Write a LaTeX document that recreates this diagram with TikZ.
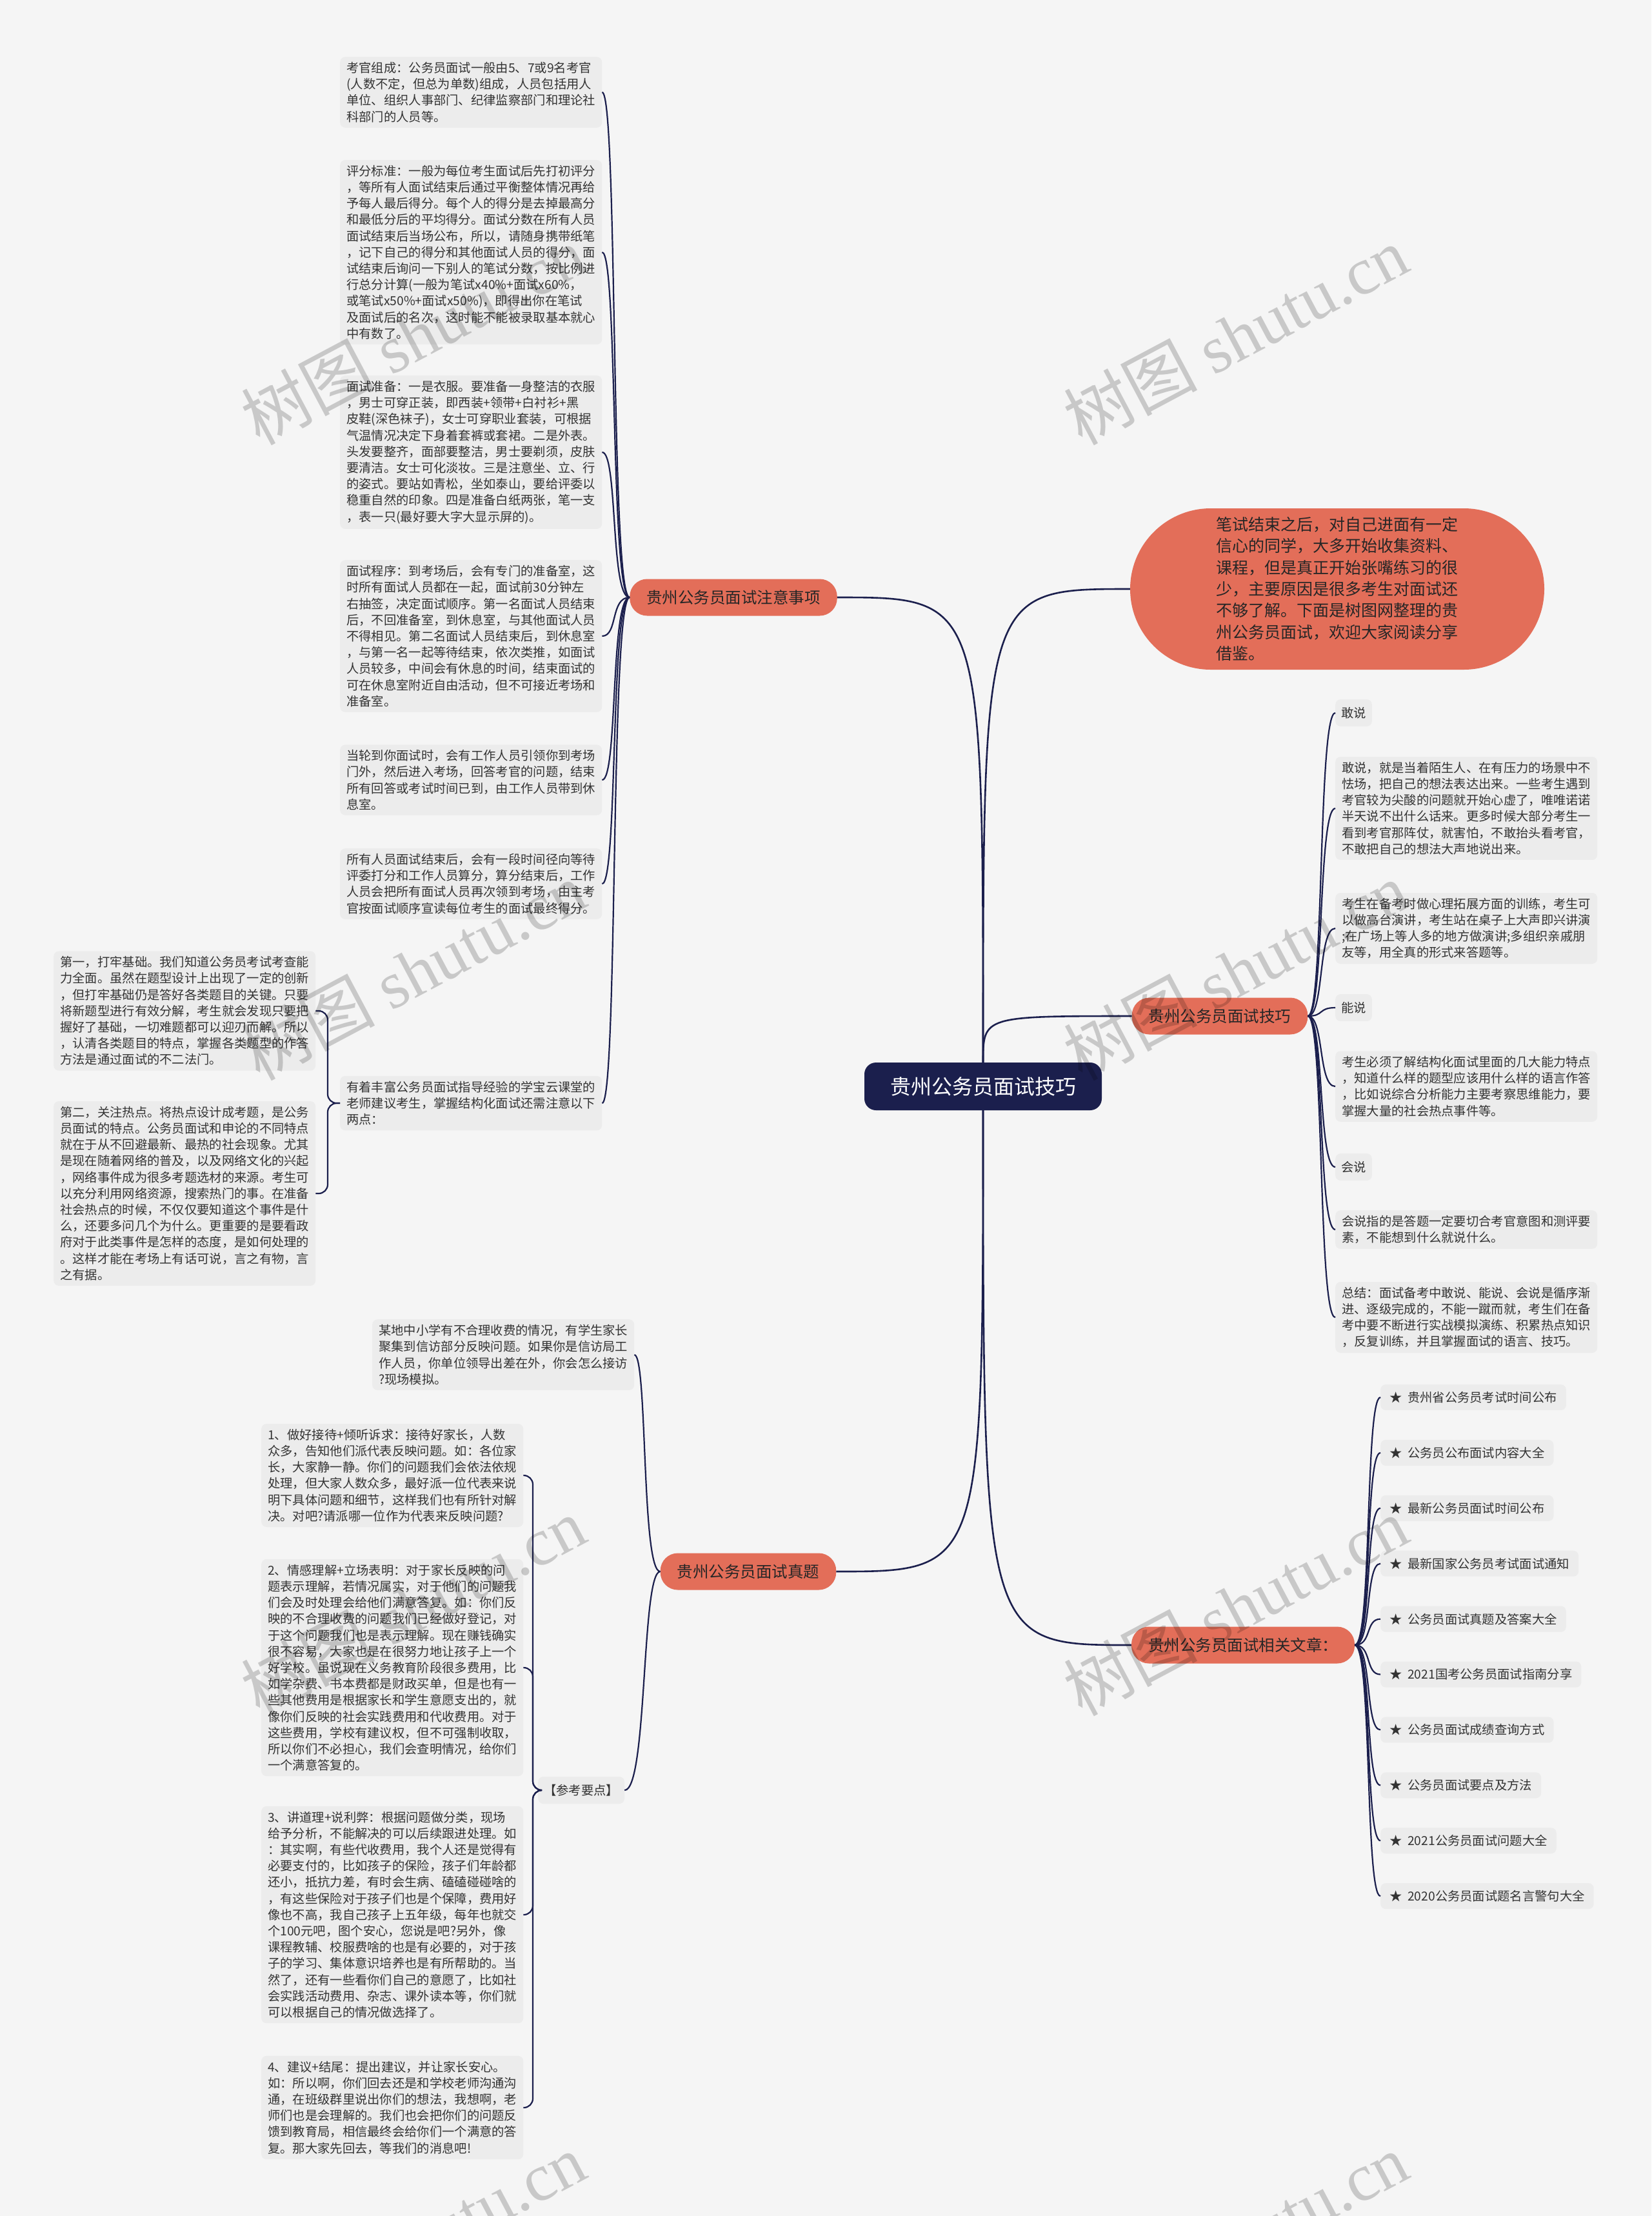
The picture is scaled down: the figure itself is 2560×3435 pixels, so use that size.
\documentclass[tikz,border=0pt]{standalone}
\usepackage{fontspec}
\setmainfont{Noto Sans CJK SC}
\newfontfamily\wmlatin{Liberation Serif}
\definecolor{bgc}{HTML}{F5F5F5}
\definecolor{blkc}{HTML}{ECECEC}
\definecolor{navy}{HTML}{1B1F4D}
\definecolor{salmon}{HTML}{E36E59}
\definecolor{txt}{HTML}{333333}
\newcommand\blkfont{\fontsize{19.3}{25.2}\selectfont}
\newcommand\brfont{\fontsize{24.5}{30}\selectfont}
\newcommand\bubfont{\fontsize{25}{33.3}\selectfont}
\newcommand\ctrfont{\fontsize{32}{38}\selectfont}
\newcommand\wmfont{\fontsize{104}{104}\selectfont}
\begin{document}
\begin{tikzpicture}[x=1pt,y=-1pt,
  blk/.style={fill=blkc, rounded corners=8pt, inner xsep=10pt, inner ysep=8pt, align=left, anchor=west, font=\blkfont, text=txt},
  lbl/.style={blk, inner ysep=12pt, inner xsep=9pt},
  item/.style={blk, inner ysep=11pt, inner xsep=14pt},
  branch/.style={fill=salmon, rounded corners=27pt, minimum height=57pt, inner xsep=26pt, inner ysep=0pt, font=\brfont, text=black!85},
  ctrbox/.style={fill=navy, rounded corners=18pt, minimum width=368pt, minimum height=74pt, font=\ctrfont, text=white},
  bubble/.style={fill=salmon, rounded corners=125pt, minimum width=642pt, minimum height=250pt, align=left, font=\bubfont, text=black!85},
  conn/.style={draw=navy, line width=2.6pt},
  sub/.style={draw=navy, line width=2.2pt},
  wm/.style={text=black, opacity=0.18, rotate=28, font=\wmfont}
]
\fill[bgc] (0,0) rectangle (2560,3435);
\useasboundingbox (0,0) rectangle (2560,3435);

% ---------- centre and branches ----------
\node[ctrbox] (ctr) at (1524,1684) {贵州公务员面试技巧};
\node[branch] (zy) at (1137,926) {贵州公务员面试注意事项};
\node[branch] (jq) at (1891,1575) {贵州公务员面试技巧};
\node[branch] (zt) at (1160,2436) {贵州公务员面试真题};
\node[branch] (xg) at (1927,2550) {贵州公务员面试相关文章：};
\node[bubble] (bub) at (2073,913) {笔试结束之后，对自己进面有一定\\信心的同学，大多开始收集资料、\\课程，但是真正开始张嘴练习的很\\少，主要原因是很多考生对面试还\\不够了解。下面是树图网整理的贵\\州公务员面试，欢迎大家阅读分享\\借鉴。};

\draw[conn] (ctr.north) .. controls (1524,926) .. (zy.east);
\draw[conn] (ctr.north) .. controls (1524,913) .. (bub.west);
\draw[conn] (ctr.north) .. controls (1524,1575) .. (jq.west);
\draw[conn] (ctr.south) .. controls (1524,2436) .. (zt.east);
\draw[conn] (ctr.south) .. controls (1524,2550) .. (xg.west);

% ---------- 注意事项 ----------
\node[blk] (kg) at (527,143) {考官组成：公务员面试一般由5、7或9名考官\\(人数不定，但总为单数)组成，人员包括用人\\单位、组织人事部门、纪律监察部门和理论社\\科部门的人员等。};
\node[blk] (pf) at (527,391) {评分标准：一般为每位考生面试后先打初评分\\，等所有人面试结束后通过平衡整体情况再给\\予每人最后得分。每个人的得分是去掉最高分\\和最低分后的平均得分。面试分数在所有人员\\面试结束后当场公布，所以，请随身携带纸笔\\，记下自己的得分和其他面试人员的得分，面\\试结束后询问一下别人的笔试分数，按比例进\\行总分计算(一般为笔试x40\%+面试x60\%，\\或笔试x50\%+面试x50\%)，即得出你在笔试\\及面试后的名次，这时能不能被录取基本就心\\中有数了。};
\node[blk] (zb) at (527,701) {面试准备：一是衣服。要准备一身整洁的衣服\\，男士可穿正装，即西装+领带+白衬衫+黑\\皮鞋(深色袜子)，女士可穿职业套装，可根据\\气温情况决定下身着套裤或套裙。二是外表。\\头发要整齐，面部要整洁，男士要剃须，皮肤\\要清洁。女士可化淡妆。三是注意坐、立、行\\的姿式。要站如青松，坐如泰山，要给评委以\\稳重自然的印象。四是准备白纸两张，笔一支\\，表一只(最好要大字大显示屏的)。};
\node[blk] (cx) at (527,986) {面试程序：到考场后，会有专门的准备室，这\\时所有面试人员都在一起，面试前30分钟左\\右抽签，决定面试顺序。第一名面试人员结束\\后，不回准备室，到休息室，与其他面试人员\\不得相见。第二名面试人员结束后，到休息室\\，与第一名一起等待结束，依次类推，如面试\\人员较多，中间会有休息的时间，结束面试的\\可在休息室附近自由活动，但不可接近考场和\\准备室。};
\node[blk] (ld) at (527,1209) {当轮到你面试时，会有工作人员引领你到考场\\门外，然后进入考场，回答考官的问题，结束\\所有回答或考试时间已到，由工作人员带到休\\息室。};
\node[blk] (sy) at (527,1370) {所有人员面试结束后，会有一段时间径向等待\\评委打分和工作人员算分，算分结束后，工作\\人员会把所有面试人员再次领到考场，由主考\\官按面试顺序宣读每位考生的面试最终得分。};
\node[blk] (yz) at (527,1710) {有着丰富公务员面试指导经验的学宝云课堂的\\老师建议考生，掌握结构化面试还需注意以下\\两点：};
\node[blk] (d1) at (83,1567) {第一，打牢基础。我们知道公务员考试考查能\\力全面。虽然在题型设计上出现了一定的创新\\，但打牢基础仍是答好各类题目的关键。只要\\将新题型进行有效分解，考生就会发现只要把\\握好了基础，一切难题都可以迎刃而解。所以\\，认清各类题目的特点，掌握各类题型的作答\\方法是通过面试的不二法门。};
\node[blk] (d2) at (83,1850) {第二，关注热点。将热点设计成考题，是公务\\员面试的特点。公务员面试和申论的不同特点\\就在于从不回避最新、最热的社会现象。尤其\\是现在随着网络的普及，以及网络文化的兴起\\，网络事件成为很多考题选材的来源。考生可\\以充分利用网络资源，搜索热门的事。在准备\\社会热点的时候，不仅仅要知道这个事件是什\\么，还要多问几个为什么。更重要的是要看政\\府对于此类事件是怎样的态度，是如何处理的\\。这样才能在考场上有话可说，言之有物，言\\之有据。};

\foreach \c/\cy in {kg/143,pf/391,zb/701,cx/986,ld/1209,sy/1370,yz/1710}
  \draw[sub] (zy.west) .. controls (946,926) and (958,\cy) .. (\c.east);

% ---------- 真题 ----------
\node[blk] (mq) at (577,2100) {某地中小学有不合理收费的情况，有学生家长\\聚集到信访部分反映问题。如果你是信访局工\\作人员，你单位领导出差在外，你会怎么接访\\?现场模拟。};
\node[lbl] (ck) at (834,2775) {【参考要点】};
\node[blk] (t1) at (405,2287) {1、做好接待+倾听诉求：接待好家长，人数\\众多，告知他们派代表反映问题。如：各位家\\长，大家静一静。你们的问题我们会依法依规\\处理，但大家人数众多，最好派一位代表来说\\明下具体问题和细节，这样我们也有所针对解\\决。对吧?请派哪一位作为代表来反映问题?};
\node[blk] (t2) at (405,2585) {2、情感理解+立场表明：对于家长反映的问\\题表示理解，若情况属实，对于他们的问题我\\们会及时处理会给他们满意答复。如：你们反\\映的不合理收费的问题我们已经做好登记，对\\于这个问题我们也是表示理解。现在赚钱确实\\很不容易，大家也是在很努力地让孩子上一个\\好学校。虽说现在义务教育阶段很多费用，比\\如学杂费、书本费都是财政买单，但是也有一\\些其他费用是根据家长和学生意愿支出的，就\\像你们反映的社会实践费用和代收费用。对于\\这些费用，学校有建议权，但不可强制收取，\\所以你们不必担心，我们会查明情况，给你们\\一个满意答复的。};
\node[blk] (t3) at (405,2968) {3、讲道理+说利弊：根据问题做分类，现场\\给予分析，不能解决的可以后续跟进处理。如\\：其实啊，有些代收费用，我个人还是觉得有\\必要支付的，比如孩子的保险，孩子们年龄都\\还小，抵抗力差，有时会生病、磕磕碰碰啥的\\，有这些保险对于孩子们也是个保障，费用好\\像也不高，我自己孩子上五年级，每年也就交\\个100元吧，图个安心，您说是吧?另外，像\\课程教辅、校服费啥的也是有必要的，对于孩\\子的学习、集体意识培养也是有所帮助的。当\\然了，还有一些看你们自己的意愿了，比如社\\会实践活动费用、杂志、课外读本等，你们就\\可以根据自己的情况做选择了。};
\node[blk] (t4) at (405,3267) {4、建议+结尾：提出建议，并让家长安心。\\如：所以啊，你们回去还是和学校老师沟通沟\\通，在班级群里说出你们的想法，我想啊，老\\师们也是会理解的。我们也会把你们的问题反\\馈到教育局，相信最终会给你们一个满意的答\\复。那大家先回去，等我们的消息吧!};

\draw[sub] (zt.west) .. controls (994,2436) and (1004,2100) .. (mq.east);
\draw[sub] (zt.west) .. controls (994,2436) and (1004,2775) .. (ck.east);
\foreach \c in {t1,t2,t3,t4}
  \draw[sub, rounded corners=14pt] (ck.west) -- ++(-8,0) |- (\c.east);
\draw[sub, rounded corners=14pt] (yz.west) -- ++(-19,0) |- (d1.east);
\draw[sub, rounded corners=14pt] (yz.west) -- ++(-19,0) |- (d2.east);

% ---------- 技巧 ----------
\node[lbl] (gs) at (2070,1105) {敢说};
\node[blk] (g1) at (2070,1253) {敢说，就是当着陌生人、在有压力的场景中不\\怯场，把自己的想法表达出来。一些考生遇到\\考官较为尖酸的问题就开始心虚了，唯唯诺诺\\半天说不出什么话来。更多时候大部分考生一\\看到考官那阵仗，就害怕，不敢抬头看考官，\\不敢把自己的想法大声地说出来。};
\node[blk] (g2) at (2070,1439) {考生在备考时做心理拓展方面的训练，考生可\\以做高台演讲，考生站在桌子上大声即兴讲演\\;在广场上等人多的地方做演讲;多组织亲戚朋\\友等，用全真的形式来答题等。};
\node[lbl] (ns) at (2070,1562) {能说};
\node[blk] (n1) at (2070,1684) {考生必须了解结构化面试里面的几大能力特点\\，知道什么样的题型应该用什么样的语言作答\\，比如说综合分析能力主要考察思维能力，要\\掌握大量的社会热点事件等。};
\node[lbl] (hs) at (2070,1809) {会说};
\node[blk] (h1) at (2070,1906) {会说指的是答题一定要切合考官意图和测评要\\素，不能想到什么就说什么。};
\node[blk] (zj) at (2070,2042) {总结：面试备考中敢说、能说、会说是循序渐\\进、逐级完成的，不能一蹴而就，考生们在备\\考中要不断进行实战模拟演练、积累热点知识\\，反复训练，并且掌握面试的语言、技巧。};

\foreach \c/\cy in {gs/1105,g1/1253,g2/1439,ns/1562,n1/1684,hs/1809,h1/1906,zj/2042}
  \draw[sub] (jq.east) .. controls (2053,1575) and (2043,\cy) .. (\c.west);

% ---------- 相关文章 ----------
\foreach \t [count=\i from 0] in {贵州省公务员考试时间公布,公务员公布面试内容大全,最新公务员面试时间公布,最新国家公务员考试面试通知,公务员面试真题及答案大全,2021国考公务员面试指南分享,公务员面试成绩查询方式,公务员面试要点及方法,2021公务员面试问题大全,2020公务员面试题名言警句大全}{
  \node[item] (it\i) at (2140,{2166+85.9*\i}) {★\hspace{0.45em}\t};
  \draw[sub] (xg.east) .. controls (2127,2550) and (2116,{2166+85.9*\i}) .. (it\i.west);
}

% ---------- watermarks ----------
\foreach \wx/\wy in {640/520,1915/520,640/1505,1915/1505,640/2490,1915/2490,640/3475,1915/3475}
  \node[wm] at (\wx,\wy) {树图 {\wmlatin shutu.cn}};
\end{tikzpicture}
\end{document}
